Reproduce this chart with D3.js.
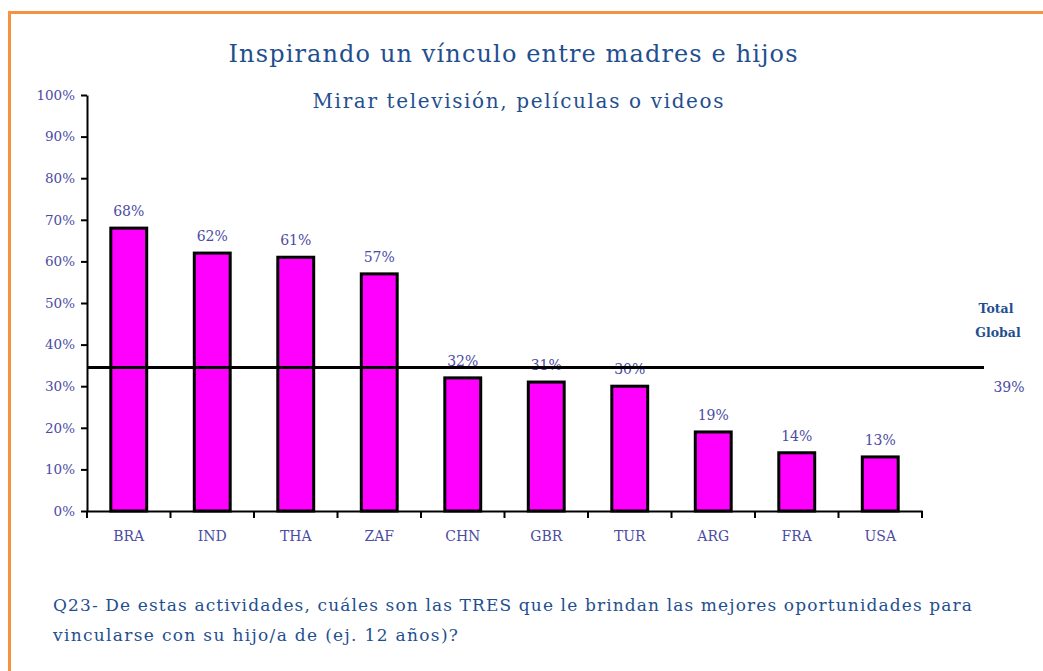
<!DOCTYPE html>
<html>
<head>
<meta charset="utf-8">
<script src="https://cdn.jsdelivr.net/npm/d3@7"></script>
<style>
  body { margin: 0; background: #fff; }
  svg { display: block; }
</style>
</head>
<body>
<div id="chart"></div>
<script>
// data
const countries = ["BRA", "IND", "THA", "ZAF", "CHN", "GBR", "TUR", "ARG", "FRA", "USA"];
const values = [68, 62, 61, 57, 32, 31, 30, 19, 14, 13];
const yTicks = [0, 10, 20, 30, 40, 50, 60, 70, 80, 90, 100];
const globalLine = [34.5];
const globalLabel = ["Total", "Global", "39%"];

const width = 1043, height = 671;
const margin = {left: 87, right: 121, top: 95, bottom: 160};

const svg = d3.select("#chart").append("svg")
    .attr("width", width)
    .attr("height", height);

// orange frame
svg.append("path")
    .attr("d", "M9.5," + height + " V12.5 H" + width)
    .attr("fill", "none")
    .attr("stroke", "#f7933e")
    .attr("stroke-width", 3);

let x = d3.scaleBand()
    .domain(countries)
    .range([margin.left, width - margin.right])
    .paddingInner(0.57)
    .paddingOuter(0.285);

let y = d3.scaleLinear()
    .domain([0, 100])
    .range([height - margin.bottom, margin.top]);

const labelColor = "#4b4ba3";
const textColor = "#1f4f8f";
const serif = "'DejaVu Serif', serif";

// titles
svg.append("text")
    .attr("x", 513).attr("y", 62)
    .attr("text-anchor", "middle")
    .style("font-family", serif)
    .style("font-size", "24px")
    .attr("fill", textColor)
    .attr("textLength", 569)
    .text("Inspirando un vínculo entre madres e hijos");

svg.append("text")
    .attr("x", 518).attr("y", 108)
    .attr("text-anchor", "middle")
    .style("font-family", serif)
    .style("font-size", "20px")
    .attr("fill", textColor)
    .attr("textLength", 411)
    .text("Mirar televisión, películas o videos");

// y axis
let yAxis = svg.append("g")
    .attr("transform", "translate(" + margin.left + ",0)")
    .call(d3.axisLeft(y).tickValues(yTicks).tickSize(6).tickSizeOuter(0).tickFormat(d => d + "%"));
yAxis.select(".domain").attr("stroke", "#000").attr("stroke-width", 2);
yAxis.selectAll(".tick line").attr("stroke", "#000").attr("stroke-width", 2);
yAxis.selectAll(".tick text")
    .attr("x", -12)
    .attr("fill", labelColor)
    .style("font-family", serif)
    .style("font-size", "13.5px");

// x axis
let xAxis = svg.append("g")
    .attr("transform", "translate(0," + y(0) + ")")
    .call(d3.axisBottom(x).tickSize(0).tickSizeOuter(0));
xAxis.select(".domain").attr("stroke", "#000").attr("stroke-width", 2);
xAxis.selectAll(".tick text")
    .attr("y", 20)
    .attr("fill", labelColor)
    .style("font-family", serif)
    .style("font-size", "14px");

// category separators on x axis
const step = x.step();
const sepPositions = d3.range(countries.length + 1).map(i => margin.left + i * step);
svg.append("g").selectAll("line")
    .data(sepPositions)
    .enter().append("line")
    .attr("x1", d => d).attr("x2", d => d)
    .attr("y1", y(0)).attr("y2", y(0) + 7)
    .attr("stroke", "#000")
    .attr("stroke-width", 2);

// bars
svg.append("g").selectAll("rect")
    .data(values)
    .enter().append("rect")
    .attr("x", (d, i) => x(countries[i]))
    .attr("y", d => y(d))
    .attr("width", x.bandwidth())
    .attr("height", d => y(0) - y(d))
    .attr("fill", "#ff00ff")
    .attr("stroke", "#000")
    .attr("stroke-width", 3);

// value labels
svg.append("g").selectAll("text")
    .data(values)
    .enter().append("text")
    .attr("x", (d, i) => x(countries[i]) + x.bandwidth() / 2)
    .attr("y", d => y(d) - 12)
    .attr("text-anchor", "middle")
    .attr("fill", labelColor)
    .style("font-family", serif)
    .style("font-size", "14px")
    .text(d => d + "%");

// total global line
svg.append("line")
    .attr("x1", margin.left)
    .attr("x2", 984)
    .attr("y1", y(globalLine[0]))
    .attr("y2", y(globalLine[0]))
    .attr("stroke", "#000")
    .attr("stroke-width", 3);

svg.append("text")
    .attr("x", 996).attr("y", 313)
    .attr("text-anchor", "middle")
    .attr("fill", textColor)
    .style("font-family", serif)
    .style("font-size", "12.5px")
    .style("font-weight", "bold")
    .text(globalLabel[0]);
svg.append("text")
    .attr("x", 998).attr("y", 337)
    .attr("text-anchor", "middle")
    .attr("fill", textColor)
    .style("font-family", serif)
    .style("font-size", "12.5px")
    .style("font-weight", "bold")
    .text(globalLabel[1]);
svg.append("text")
    .attr("x", 1009).attr("y", 392)
    .attr("text-anchor", "middle")
    .attr("fill", labelColor)
    .style("font-family", serif)
    .style("font-size", "14px")
    .text(globalLabel[2]);

// question footer
const footer = [
    "Q23- De estas actividades, cuáles son las TRES que le brindan las mejores oportunidades para",
    "vincularse con su hijo/a de (ej. 12 años)?"
];
svg.append("text")
    .attr("x", 53).attr("y", 611)
    .attr("fill", textColor)
    .style("font-family", serif)
    .style("font-size", "17px")
    .attr("textLength", 919)
    .text(footer[0]);
svg.append("text")
    .attr("x", 53).attr("y", 641)
    .attr("fill", textColor)
    .style("font-family", serif)
    .style("font-size", "17px")
    .attr("textLength", 405)
    .text(footer[1]);
</script>
</body>
</html>
